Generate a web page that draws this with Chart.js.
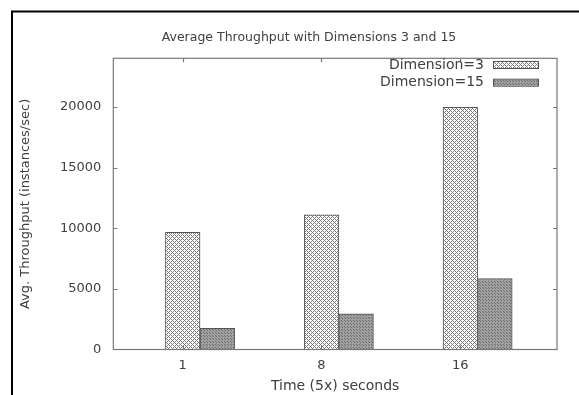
<!DOCTYPE html>
<html>
<head>
<meta charset="utf-8">
<script src="https://cdn.jsdelivr.net/npm/chart.js@4/dist/chart.umd.min.js"></script>
<style>
    body { margin: 0; background: #fff; }
    #wrap { width: 579px; height: 395px; }
</style>
</head>
<body>
<div id="wrap"><canvas id="throughputChart" width="579" height="395"></canvas></div>
<script>
// Chart data
const categories = ['1', '8', '16'];
const seriesNames = ['Dimension=3', 'Dimension=15'];
const dim3Values = [9650, 11100, 19950];
const dim15Values = [1750, 2950, 5850];
const yTicks = [0, 5000, 10000, 15000, 20000];
const chartTitle = 'Average Throughput with Dimensions 3 and 15';

const FONT = "'DejaVu Sans', sans-serif";
const TEXT = '#404040';
const AXIS = '#777';

function makePattern(draw, size) {
    const c = document.createElement('canvas');
    c.width = size; c.height = size;
    const g = c.getContext('2d');
    draw(g);
    return g.createPattern(c, 'repeat');
}

// cross-hatch for Dimension=3
const hatch = makePattern(function(g) {
    g.fillStyle = '#fff';
    g.fillRect(0, 0, 4, 4);
    g.fillStyle = '#7a7a7a';
    for (let y = 0; y < 4; y++) {
        for (let x = 0; x < 4; x++) {
            if ((x + y) % 4 === 0 || ((x - y) + 4) % 4 === 0) g.fillRect(x, y, 1, 1);
        }
    }
}, 4);

// dense dots for Dimension=15
const dots = makePattern(function(g) {
    g.fillStyle = '#a0a0a0';
    g.fillRect(0, 0, 3, 3);
    g.fillStyle = '#6a6a6a';
    g.fillRect(0, 0, 1, 1);
    g.fillRect(2, 2, 1, 1);
}, 3);

const fills = [hatch, dots];

// gnuplot-like frame, inward ticks, title, legend and outer border
const framePlugin = {
    id: 'frame',
    beforeDraw(chart) {
        const ctx = chart.ctx;
        ctx.save();
        ctx.strokeStyle = '#000';
        ctx.lineWidth = 2;
        ctx.strokeRect(12, 11.5, 1000, 1000);
        ctx.font = '12.5px ' + FONT;
        ctx.fillStyle = TEXT;
        ctx.textAlign = 'center';
        ctx.textBaseline = 'middle';
        ctx.fillText(chartTitle, 309, 38);
        ctx.restore();
    },
    afterDraw(chart) {
        const ctx = chart.ctx;
        const a = chart.chartArea;
        const xs = chart.scales.x, ys = chart.scales.y;
        ctx.save();
        ctx.strokeStyle = AXIS;
        ctx.lineWidth = 1.2;
        ctx.strokeRect(a.left, a.top, a.right - a.left, a.bottom - a.top);
        ctx.beginPath();
        ys.ticks.forEach(t => {
            const y = Math.round(ys.getPixelForValue(t.value)) + 0.5;
            if (t.value === 0) return;
            ctx.moveTo(a.left, y); ctx.lineTo(a.left + 4, y);
            ctx.moveTo(a.right, y); ctx.lineTo(a.right - 4, y);
        });
        xs.ticks.forEach(t => {
            const x = Math.round(xs.getPixelForValue(t.value)) + 0.5;
            ctx.moveTo(x, a.bottom); ctx.lineTo(x, a.bottom - 4);
            ctx.moveTo(x, a.top); ctx.lineTo(x, a.top + 4);
        });
        ctx.stroke();

        // legend, top right inside plot
        ctx.font = '14px ' + FONT;
        ctx.textAlign = 'right';
        ctx.textBaseline = 'middle';
        chart.data.datasets.forEach((ds, i) => {
            const y = 65 + i * 17.7;
            ctx.fillStyle = TEXT;
            ctx.fillText(ds.label, 484, y);
            ctx.fillStyle = ds.backgroundColor;
            ctx.fillRect(493, y - 3, 45, 6);
            ctx.strokeStyle = '#555';
            ctx.lineWidth = 1;
            ctx.strokeRect(493.5, y - 3.5, 45, 7);
        });
        ctx.restore();
    }
};

const ctx = document.getElementById('throughputChart').getContext('2d');
const chart = new Chart(ctx, {
    type: 'bar',
    data: {
        datasets: [dim3Values, dim15Values].map((vals, i) => ({
            label: seriesNames[i],
            data: vals.map((v, j) => ({ x: j, y: v })),
            backgroundColor: fills[i],
            borderColor: '#555',
            borderWidth: 1,
            barThickness: 34.6
        }))
    },
    options: {
        responsive: false,
        animation: false,
        layout: { padding: { left: 14, right: 22, top: 58.3, bottom: 0 } },
        plugins: {
            legend: { display: false },
            tooltip: { enabled: false },
            title: { display: false }
        },
        scales: {
            x: {
                type: 'linear',
                offset: false,
                min: -0.625,
                max: 2.572,
                grid: { display: false, drawTicks: false, offset: false },
                border: { display: false },
                afterBuildTicks: function(scale) {
                    scale.ticks = categories.map((c, i) => ({ value: i - 0.125 }));
                },
                afterFit: function(scale) { scale.height = 45.5; },
                ticks: {
                    padding: 8,
                    color: TEXT,
                    font: { family: FONT, size: 13 },
                    callback: function(value, index) { return categories[index]; }
                },
                title: {
                    display: true,
                    text: 'Time (5x) seconds',
                    color: TEXT,
                    font: { family: FONT, size: 14 },
                    padding: { top: 0, bottom: 0 }
                }
            },
            y: {
                min: 0,
                max: 24000,
                grid: { display: false, drawTicks: false },
                border: { display: false },
                afterBuildTicks: function(scale) {
                    scale.ticks = yTicks.map(v => ({ value: v }));
                },
                afterFit: function(scale) { scale.width = 99.3; },
                ticks: {
                    padding: 12,
                    color: TEXT,
                    font: { family: FONT, size: 13 },
                    callback: function(value) { return String(value); }
                },
                title: {
                    display: true,
                    text: 'Avg. Throughput (instances/sec)',
                    color: TEXT,
                    font: { family: FONT, size: 13 },
                    padding: { top: 4, bottom: 0 }
                }
            }
        }
    },
    plugins: [framePlugin]
});
</script>
</body>
</html>
